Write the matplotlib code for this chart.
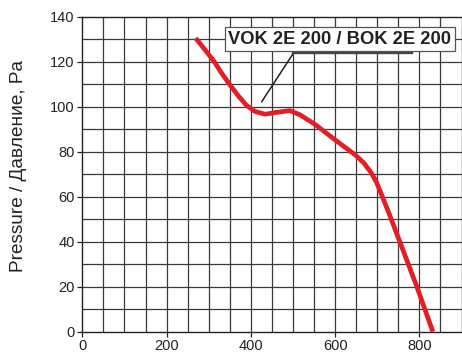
import matplotlib
matplotlib.use("Agg")
import matplotlib.pyplot as plt
import numpy as np

# Data
flow = [269, 290, 313, 330, 349, 370, 390, 410, 434, 460, 493, 517, 553, 600, 648, 668, 685, 698, 710, 727, 755, 794, 832]
pressure = [130.4, 125.5, 120, 115, 110, 104.8, 100.5, 97.8, 96.6, 97.4, 98.2, 96.3, 92, 85.2, 78.5, 75, 70.8, 66.5, 61, 53, 39.3, 20, 0]
x_ticks = [0, 200, 400, 600, 800]
y_ticks = [0, 20, 40, 60, 80, 100, 120, 140]
label_text = "VOK 2E 200 / BOK 2E 200"
y_label = "Pressure / Давление, Pa"

fig = plt.figure(figsize=(4.62, 3.56), dpi=100)
ax = fig.add_axes([82.3 / 462, (356 - 331.7) / 356, (461.5 - 82.3) / 462, 315.2 / 356])
ax.set_xlim(0, 900)
ax.set_ylim(0, 140)

for gx in np.arange(50, 900, 50):
    ax.axvline(gx, color="#3a3a3a", lw=0.9, zorder=1)
for gy in np.arange(10, 140, 10):
    ax.axhline(gy, color="#3a3a3a", lw=0.9, zorder=1)

for s in ax.spines.values():
    s.set_color("#222222")
    s.set_linewidth(1.0)

ax.set_xticks(x_ticks)
ax.set_yticks(y_ticks)
ax.tick_params(axis="both", direction="out", length=3.5, width=0.9, color="#222222",
               labelsize=10.5, pad=2)
for lab in ax.get_xticklabels() + ax.get_yticklabels():
    lab.set_fontfamily("Liberation Sans")
    lab.set_color("#222222")

ax.plot(flow, pressure, color="#e31e24", lw=3.4, solid_capstyle="butt",
        solid_joinstyle="round", zorder=5)

# leader line
ax.plot([426, 501], [102.2, 123.7], color="#222222", lw=1.1, zorder=6)
ax.plot([501, 782], [123.7, 123.7], color="#444444", lw=1.7, zorder=6)

ax.text((338 + 885) / 2, (124.4 + 135.4) / 2, label_text, ha="center", va="center",
        fontsize=13.2, fontweight="bold", family="Liberation Sans", color="#222222", zorder=7,
        bbox=dict(boxstyle="square,pad=0.18", fc="white", ec="#555555", lw=0.9))

fig.text(19 / 462, 1 - 166.5 / 356, y_label, rotation=90, ha="center", va="center",
         fontsize=13.7, family="Liberation Sans", color="#222222")

fig.savefig("out.png", dpi=100)
